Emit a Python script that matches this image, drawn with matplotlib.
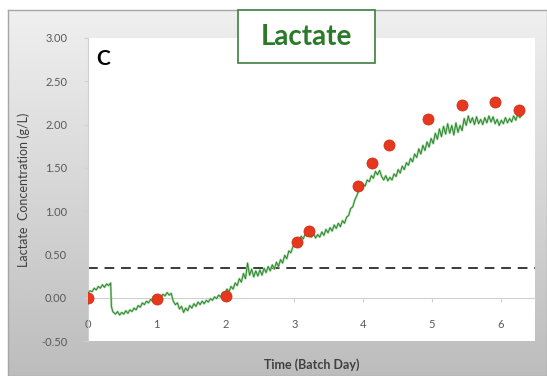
import numpy as np
import matplotlib.pyplot as plt
from matplotlib.patches import Rectangle

# Dữ liệu đo offline (chấm đỏ)
sample_days = [0.0, 1.0, 2.0, 3.04, 3.22, 3.93, 4.13, 4.38, 4.95, 5.44, 5.92, 6.27]
sample_vals = [0.0, -0.01, 0.02, 0.64, 0.77, 1.29, 1.56, 1.76, 2.06, 2.23, 2.26, 2.17]

# Tín hiệu online (đường xanh)
trace_days = [0.00, 0.03, 0.06, 0.09, 0.12, 0.15, 0.18, 0.21, 0.24, 0.27, 0.30, 0.33,
              0.34, 0.36, 0.40, 0.43, 0.46, 0.49, 0.52, 0.55, 0.58, 0.61, 0.64, 0.67,
              0.70, 0.73, 0.76, 0.79, 0.82, 0.85, 0.88, 0.91, 0.94, 0.97, 1.00, 1.03,
              1.06, 1.09, 1.12, 1.15, 1.18, 1.21, 1.24, 1.27, 1.30, 1.33, 1.36, 1.39,
              1.42, 1.45, 1.48, 1.51, 1.54, 1.57, 1.60, 1.63, 1.66, 1.69, 1.72, 1.75,
              1.78, 1.81, 1.84, 1.87, 1.90, 1.93, 1.96, 1.99, 2.02, 2.05, 2.08, 2.11,
              2.14, 2.17, 2.20, 2.23, 2.26, 2.29, 2.32, 2.35, 2.38, 2.41, 2.44, 2.47,
              2.50, 2.53, 2.56, 2.59, 2.62, 2.65, 2.68, 2.71, 2.74, 2.77, 2.80, 2.83,
              2.86, 2.89, 2.92, 2.95, 2.98, 3.01, 3.04, 3.07, 3.10, 3.13, 3.16, 3.19,
              3.22, 3.25, 3.28, 3.31, 3.34, 3.37, 3.40, 3.43, 3.46, 3.49, 3.52, 3.55,
              3.58, 3.61, 3.64, 3.67, 3.70, 3.73, 3.76, 3.79, 3.82, 3.85, 3.88, 3.91,
              3.94, 3.97, 4.00, 4.03, 4.06, 4.09, 4.12, 4.15, 4.18, 4.21, 4.24, 4.27,
              4.30, 4.33, 4.36, 4.39, 4.42, 4.45, 4.48, 4.51, 4.54, 4.57, 4.60, 4.63,
              4.66, 4.69, 4.72, 4.75, 4.78, 4.81, 4.84, 4.87, 4.90, 4.93, 4.96, 4.99,
              5.02, 5.05, 5.08, 5.11, 5.14, 5.17, 5.20, 5.23, 5.26, 5.29, 5.32, 5.35,
              5.38, 5.41, 5.44, 5.47, 5.50, 5.53, 5.56, 5.59, 5.62, 5.65, 5.68, 5.71,
              5.74, 5.77, 5.80, 5.83, 5.86, 5.89, 5.92, 5.95, 5.98, 6.01, 6.04, 6.07,
              6.10, 6.13, 6.16, 6.19, 6.22, 6.25, 6.28, 6.30]
trace_vals = [0.05, 0.08, 0.07, 0.11, 0.09, 0.13, 0.11, 0.15, 0.12, 0.16, 0.14, 0.17,
              -0.10, -0.16, -0.19, -0.16, -0.20, -0.17, -0.19, -0.15, -0.18, -0.14, -0.16, -0.12,
              -0.14, -0.09, -0.11, -0.06, -0.08, -0.04, -0.06, -0.02, -0.04, 0.00, -0.02, 0.02,
              0.00, 0.04, 0.02, 0.06, 0.03, 0.05, -0.04, -0.08, -0.06, -0.13, -0.10, -0.17,
              -0.12, -0.15, -0.09, -0.12, -0.07, -0.10, -0.05, -0.08, -0.04, -0.07, -0.03, -0.05,
              -0.01, -0.03, 0.01, -0.01, 0.03, 0.01, 0.06, 0.04, 0.10, 0.07, 0.13, 0.10,
              0.17, 0.14, 0.22, 0.18, 0.28, 0.22, 0.40, 0.26, 0.33, 0.24, 0.31, 0.25,
              0.32, 0.26, 0.34, 0.29, 0.36, 0.31, 0.38, 0.33, 0.41, 0.36, 0.44, 0.40,
              0.49, 0.45, 0.54, 0.52, 0.59, 0.60, 0.64, 0.66, 0.71, 0.68, 0.74, 0.71,
              0.76, 0.70, 0.74, 0.69, 0.73, 0.70, 0.76, 0.72, 0.79, 0.75, 0.81, 0.77,
              0.84, 0.80, 0.86, 0.82, 0.89, 0.86, 0.93, 0.95, 1.03, 1.05, 1.13, 1.18,
              1.25, 1.27, 1.31, 1.29, 1.36, 1.34, 1.41, 1.38, 1.46, 1.42, 1.47, 1.40,
              1.36, 1.41, 1.35, 1.39, 1.36, 1.43, 1.40, 1.48, 1.44, 1.52, 1.48, 1.56,
              1.53, 1.61, 1.57, 1.66, 1.62, 1.72, 1.66, 1.76, 1.70, 1.80, 1.74, 1.84,
              1.78, 1.90, 1.83, 1.95, 1.86, 1.98, 1.89, 2.01, 1.90, 1.99, 1.88, 2.02,
              1.91, 1.99, 1.93, 2.07, 1.99, 2.10, 2.02, 2.08, 2.00, 2.09, 2.01, 2.06,
              2.00, 2.08, 2.02, 2.10, 2.03, 2.09, 2.01, 2.06, 1.99, 2.05, 2.01, 2.08,
              2.02, 2.07, 2.03, 2.10, 2.05, 2.12, 2.08, 2.10]

threshold = 0.34
y_ticks = [-0.5, 0.0, 0.5, 1.0, 1.5, 2.0, 2.5, 3.0]
x_ticks = [0, 1, 2, 3, 4, 5, 6]

plt.rcParams['font.family'] = ['Lato', 'DejaVu Sans']

W, H = 547, 376
fig = plt.figure(figsize=(W / 100, H / 100), dpi=100)
fig.patch.set_facecolor('white')

# Nền xám gradient kiểu Excel
bg = fig.add_axes([8 / W, 0, 1 - 8 / W, 1 - 10 / H], zorder=-5)
grad = np.linspace(0, 1, 256).reshape(-1, 1)
c_top = np.array([0.94, 0.94, 0.94])
c_bot = np.array([0.74, 0.74, 0.74])
img = c_top * (1 - grad[..., None]) + c_bot * grad[..., None]
img = np.repeat(img, 2, axis=1)
bg.imshow(img, aspect='auto', extent=(0, 1, 0, 1))
bg.set_xlim(0, 1)
bg.set_ylim(0, 1)
for s in bg.spines.values():
    s.set_color('#a6a6a6')
    s.set_linewidth(1.0)
bg.set_xticks([])
bg.set_yticks([])

ax = fig.add_axes([88 / W, 1 - 341 / H, (535 - 88) / W, (341 - 38) / H])
ax.set_facecolor('white')
ax.set_xlim(0, 6.5)
ax.set_ylim(-0.5, 3.0)

ax.axhline(threshold, color='#3a3a3a', lw=1.4, ls=(0, (5, 3.5)), zorder=2)
ax.plot(trace_days, trace_vals, color='#9ad89a', lw=1.6, zorder=3)
ax.plot(trace_days, trace_vals, color='#2f7a2f', lw=0.6, zorder=4)
ax.plot(sample_days, sample_vals, 'o', color='#e5381e', markersize=8,
        markeredgecolor='#d02a12', markeredgewidth=0.5, zorder=5)

for name in ['top', 'right']:
    ax.spines[name].set_visible(False)
ax.spines['bottom'].set_position(('data', 0))
ax.spines['bottom'].set_color('#d0d0d0')
ax.spines['left'].set_color('#d0d0d0')
ax.set_yticks(y_ticks)
ax.set_yticklabels([f'{v:.2f}' for v in y_ticks])
ax.set_xticks(x_ticks)
ax.tick_params(axis='both', colors='#d0d0d0', labelcolor='#595959', labelsize=8, length=3)
ax.tick_params(axis='x', pad=12)
ax.tick_params(axis='y', pad=12)

ax.set_ylabel('Lactate  Concentration (g/L)', fontsize=9, color='#404040', labelpad=8)
fig.text(312 / W, 1 - 365 / H, 'Time (Batch Day)', fontsize=9, fontweight='bold',
         color='#404040', ha='center', va='center')

ax.text(0.018, 0.965, 'C', transform=ax.transAxes, fontsize=15, fontweight='bold',
        color='black', ha='left', va='top')

# Hộp tiêu đề
fig.patches.append(Rectangle((238 / W, 1 - 63 / H), (375 - 238) / W, 53 / H,
                             transform=fig.transFigure, facecolor='white',
                             edgecolor='#3d7f3d', lw=1.2, zorder=10))
fig.text(306 / W, 1 - 37 / H, 'Lactate', fontsize=20, fontweight='bold',
         color='#2a7a2a', ha='center', va='center', zorder=11)

plt.savefig('out.png', dpi=100)
plt.close()
